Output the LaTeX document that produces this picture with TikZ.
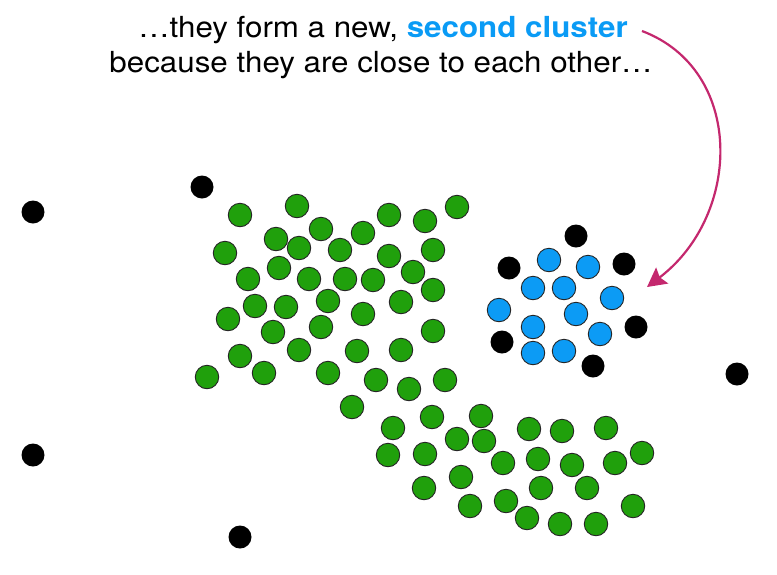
\documentclass[tikz,border=0pt]{standalone}
\usepackage{fontspec}
\setmainfont{TeX Gyre Heros}
\newfontfamily\capfont[FakeStretch=1.08]{TeX Gyre Heros}
\usetikzlibrary{arrows.meta}
\definecolor{dotgreen}{RGB}{32,160,12}
\definecolor{dotblue}{RGB}{12,155,245}
\definecolor{arrowmag}{RGB}{196,40,110}
\definecolor{textblue}{RGB}{10,155,245}
\tikzset{
  greendot/.style={circle,draw=black!85,line width=0.9pt,fill=dotgreen,minimum size=23.5pt,inner sep=0pt},
  bluedot/.style={circle,draw=black!85,line width=0.9pt,fill=dotblue,minimum size=23.5pt,inner sep=0pt},
  blackdot/.style={circle,fill=black,minimum size=23pt,inner sep=0pt},
  caption/.style={font=\capfont\fontsize{29}{33}\selectfont,inner sep=0pt,anchor=base},
  curvearrow/.style={draw=arrowmag,line width=2.2pt,-{Stealth[length=19pt,width=20pt,inset=3pt]}}
}
\begin{document}
\begin{tikzpicture}[x=1pt,y=-1pt]
\useasboundingbox (0,0) rectangle (777,574);
% caption
\node[caption] (t1) at (383,37) {…they form a new, \textbf{\textcolor{textblue}{second cluster}}};
\node[caption] (t2) at (381,72) {because they are close to each other…};
% green cluster
\foreach \x/\y [count=\i] in {
240/215, 297/206, 389/215, 425/221, 457/207, 321/229, 363/233, 276/239, 299/248, 340/250,
225/253, 389/256, 433/250, 279/268, 248/279, 309/279, 345/279, 373/280, 413/272, 433/290,
255/306, 286/307, 328/301, 401/302, 228/319, 363/314, 273/332, 321/327, 433/331, 240/356,
299/350, 357/351, 401/350, 207/377, 264/373, 328/373, 376/380, 409/389, 445/380, 352/407,
393/428, 432/417, 481/416, 457/439, 484/441, 529/429, 562/431, 606/428, 388/455, 425/454,
503/463, 538/459, 572/465, 615/463, 642/453, 424/488, 461/477, 541/488, 587/488, 470/506,
506/501, 527/518, 560/524, 596/524, 633/506}
  \node[greendot] (g\i) at (\x,\y) {};
% blue cluster
\foreach \x/\y [count=\i] in {
549/260, 588/267, 533/288, 564/288, 612/298, 499/310, 576/314, 533/327, 600/334, 533/353, 564/351}
  \node[bluedot] (b\i) at (\x,\y) {};
% black points
\foreach \x/\y [count=\i] in {
33/212, 202/187, 33/455, 240/537, 737/374, 576/236, 509/268, 624/264, 636/327, 502/342, 593/366}
  \node[blackdot] (k\i) at (\x,\y) {};
% arrow
\coordinate (as) at (642,31);
\coordinate (ae) at (647,287);
\draw[curvearrow] (as) .. controls (745,70) and (742,215) .. (ae);
\end{tikzpicture}
\end{document}
